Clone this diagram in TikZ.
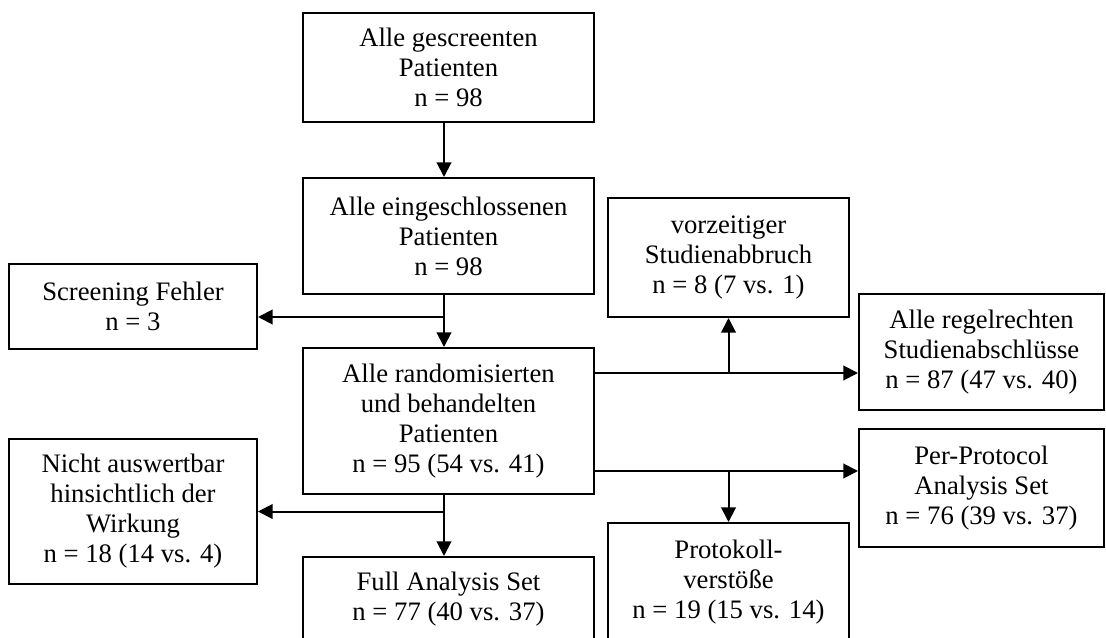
\documentclass[tikz,border=0pt]{standalone}
\usepackage{fontspec}
\setmainfont{Liberation Serif}
\usetikzlibrary{arrows.meta}
\tikzset{
  box/.style={draw, rectangle, line width=1.5pt, align=center, inner sep=0pt,
    font=\fontsize{20}{22.5}\selectfont},
  ln/.style={line width=1.5pt},
  arr/.style={line width=1.5pt, -{Triangle[length=11pt,width=11pt]}}
}
\begin{document}
\begin{tikzpicture}[x=0.75pt,y=-0.75pt]
\useasboundingbox (0,0) rectangle (1106,638);
\clip (0,0) rectangle (1106,638);
\fill[white] (0,0) rectangle (1106,638);
% centre column
\node[box, minimum width=218.25pt, minimum height=81.75pt] (b1) at (448.5,67.5)
  {Alle gescreenten\\Patienten\\n = 98};
\node[box, minimum width=218.25pt, minimum height=87pt] (b2) at (448.5,236)
  {Alle eingeschlossenen\\Patienten\\n = 98};
\node[box, minimum width=218.25pt, minimum height=109.5pt] (b3) at (448.5,421)
  {Alle randomisierten\\und behandelten\\Patienten\\n = 95 (54 vs. 41)};
\node[box, minimum width=218.25pt, minimum height=63.75pt] (full) at (448.5,599.5)
  {Full Analysis Set\\n = 77 (40 vs. 37)};
% left column
\node[box, minimum width=186pt, minimum height=63.75pt] (scr) at (133,306.5)
  {Screening Fehler\\n = 3};
\node[box, minimum width=186pt, minimum height=108.75pt] (nic) at (133,511.5)
  {Nicht auswertbar\\hinsichtlich der\\Wirkung\\n = 18 (14 vs. 4)};
% middle-right column
\node[box, minimum width=180.75pt, minimum height=89.25pt] (vor) at (728.5,257.5)
  {vorzeitiger\\Studienabbruch\\n = 8 (7 vs. 1)};
\node[box, minimum width=180.75pt, minimum height=89.25pt] (prot) at (728.5,582.5)
  {Protokoll-\\verstöße\\n = 19 (15 vs. 14)};
% right column
\node[box, minimum width=183.75pt, minimum height=87pt] (reg) at (981.5,352)
  {Alle regelrechten\\Studienabschlüsse\\n = 87 (47 vs. 40)};
\node[box, minimum width=183.75pt, minimum height=88.5pt] (pp) at (981.5,488)
  {Per-Protocol\\Analysis Set\\n = 76 (39 vs. 37)};
% helper rows / columns
\coordinate (x444) at (444,0);
\coordinate (y317) at (0,317);
\coordinate (y373) at (0,373);
\coordinate (y471) at (0,471);
% connectors
\draw[arr] (b1.south -| x444) -- (b2.north -| x444);
\draw[arr] (b2.south -| x444) -- (b3.north -| x444);
\draw[arr] (x444 |- y317) -- (scr.east |- y317);
\draw[arr] (b3.east |- y373) -- (reg.west |- y373);
\draw[arr] (vor.south |- y373) -- (vor.south);
\draw[arr] (b3.east |- y471) -- (pp.west |- y471);
\draw[arr] (prot.north |- y471) -- (prot.north);
\draw[arr] (b3.south -| x444) -- (full.north -| x444);
\draw[arr] (x444 |- nic.east) -- (nic.east);
\end{tikzpicture}
\end{document}
